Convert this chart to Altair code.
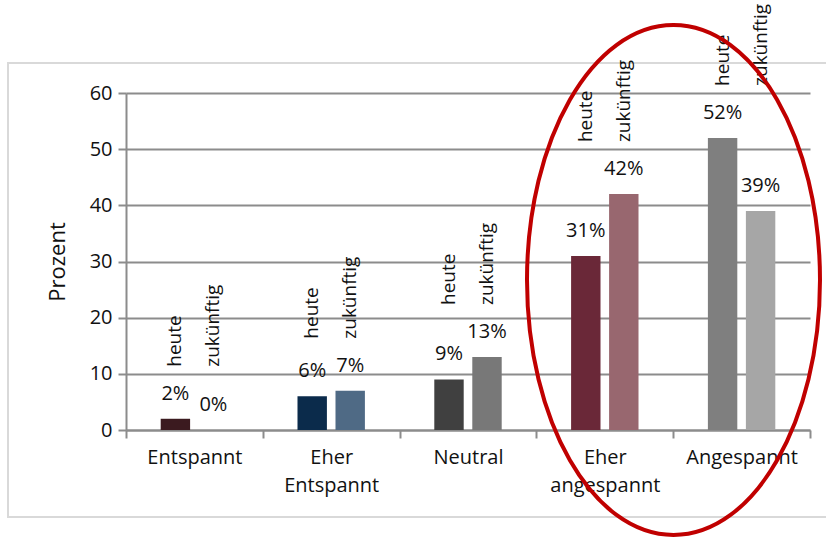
import altair as alt
import pandas as pd

# ---- data ----
categories = ["Entspannt", "Eher Entspannt", "Neutral", "Eher angespannt", "Angespannt"]
series = ["heute", "zukünftig"]
heute = [2, 6, 9, 31, 52]
zukuenftig = [0, 7, 13, 42, 39]
y_ticks = [0, 10, 20, 30, 40, 50, 60]

# ---- styles ----
colors_heute = ["#3b1a1f", "#0b2b4b", "#404040", "#6a2838", "#7f7f7f"]
colors_zuk = ["#7a5a5f", "#4f6a85", "#787878", "#98676f", "#a6a6a6"]
GRID = "#8c8c8c"
TXT = "#111111"
FONT = "Open Sans"

rows = []
for i, c in enumerate(categories):
    rows.append({"cat": c, "serie": series[0], "value": heute[i], "key": c + "|" + series[0]})
    rows.append({"cat": c, "serie": series[1], "value": zukuenftig[i], "key": c + "|" + series[1]})
df = pd.DataFrame(rows)
color_domain = [r["key"] for r in rows]
color_range = []
for a, b in zip(colors_heute, colors_zuk):
    color_range += [a, b]

W, H = 684, 337
xscale = alt.Scale(domain=categories, paddingInner=0, paddingOuter=0)
yscale = alt.Scale(domain=[0, 60], nice=False)
offscale = alt.Scale(domain=series, paddingInner=0.226, paddingOuter=0.913)

xaxis = alt.Axis(tickBand="extent", tickSize=8, tickWidth=2, tickColor=GRID,
                 domainColor=GRID, domainWidth=2, labelAngle=0,
                 labelFontSize=20, labelColor=TXT, labelPadding=9,
                 labelLineHeight=28, labelFont=FONT,
                 labelExpr="split(datum.label, ' ')", grid=False)
yaxis = alt.Axis(values=y_ticks, grid=True, gridColor=GRID, gridWidth=2,
                 domainColor=GRID, domainWidth=2, tickColor=GRID, tickWidth=2,
                 tickSize=8, labelFontSize=20, labelColor=TXT, labelPadding=6,
                 labelFont=FONT, titleFont=FONT, titleFontSize=22,
                 titleFontWeight="normal", titleColor=TXT, titlePadding=20)


def xenc():
    return alt.X("cat:N", scale=xscale, sort=categories, title=None, axis=xaxis)


def yenc(field):
    return alt.Y(field, scale=yscale, title="Prozent", axis=yaxis)


def oenc():
    return alt.XOffset("serie:N", scale=offscale)


base = alt.Chart(df)

bars = base.mark_bar().encode(
    x=xenc(), xOffset=oenc(), y=yenc("value:Q"),
    color=alt.Color("key:N", scale=alt.Scale(domain=color_domain, range=color_range), legend=None),
)

value_labels = base.transform_calculate(
    lbl="datum.value + '%'"
).mark_text(fontSize=20, font=FONT, color=TXT, baseline="middle", dy=-25).encode(
    x=xenc(), xOffset=oenc(), y=yenc("value:Q"), text="lbl:N",
)

series_labels = base.transform_joinaggregate(
    gmax="max(value)", groupby=["cat"]
).mark_text(fontSize=19, font=FONT, color=TXT, angle=270, align="left",
            baseline="middle", dx=52).encode(
    x=xenc(), xOffset=oenc(), y=yenc("gmax:Q"), text="serie:N",
)

one = alt.Chart(pd.DataFrame({"d": [0]}))

frame = one.mark_rect(fill="transparent", stroke="#d9d9d9", strokeWidth=2).encode(
    x=alt.value(-118), x2=alt.value(740), y=alt.value(-30), y2=alt.value(424)
)

ellipse_path = ("M 0.5745 0 C 0.5745 0.5523 0.3173 1 0 1 C -0.3173 1 -0.5745 0.5523 -0.5745 0 "
                "C -0.5745 -0.5523 -0.3173 -1 0 -1 C 0.3173 -1 0.5745 -0.5523 0.5745 0 Z")
ellipse = one.mark_point(shape=ellipse_path, size=510 * 510, filled=False,
                         stroke="#c00000", strokeWidth=4, opacity=1).encode(
    x=alt.value(547.5), y=alt.value(187)
)

chart = alt.layer(frame, bars, value_labels, series_labels, ellipse).properties(
    width=W, height=H,
    padding={"left": 126, "top": 93, "right": 16, "bottom": 107},
    autosize="none",
).configure(font=FONT, view=alt.ViewConfig(stroke="transparent"))

chart.save("out.html", embed_options={"renderer": "svg", "actions": False})
